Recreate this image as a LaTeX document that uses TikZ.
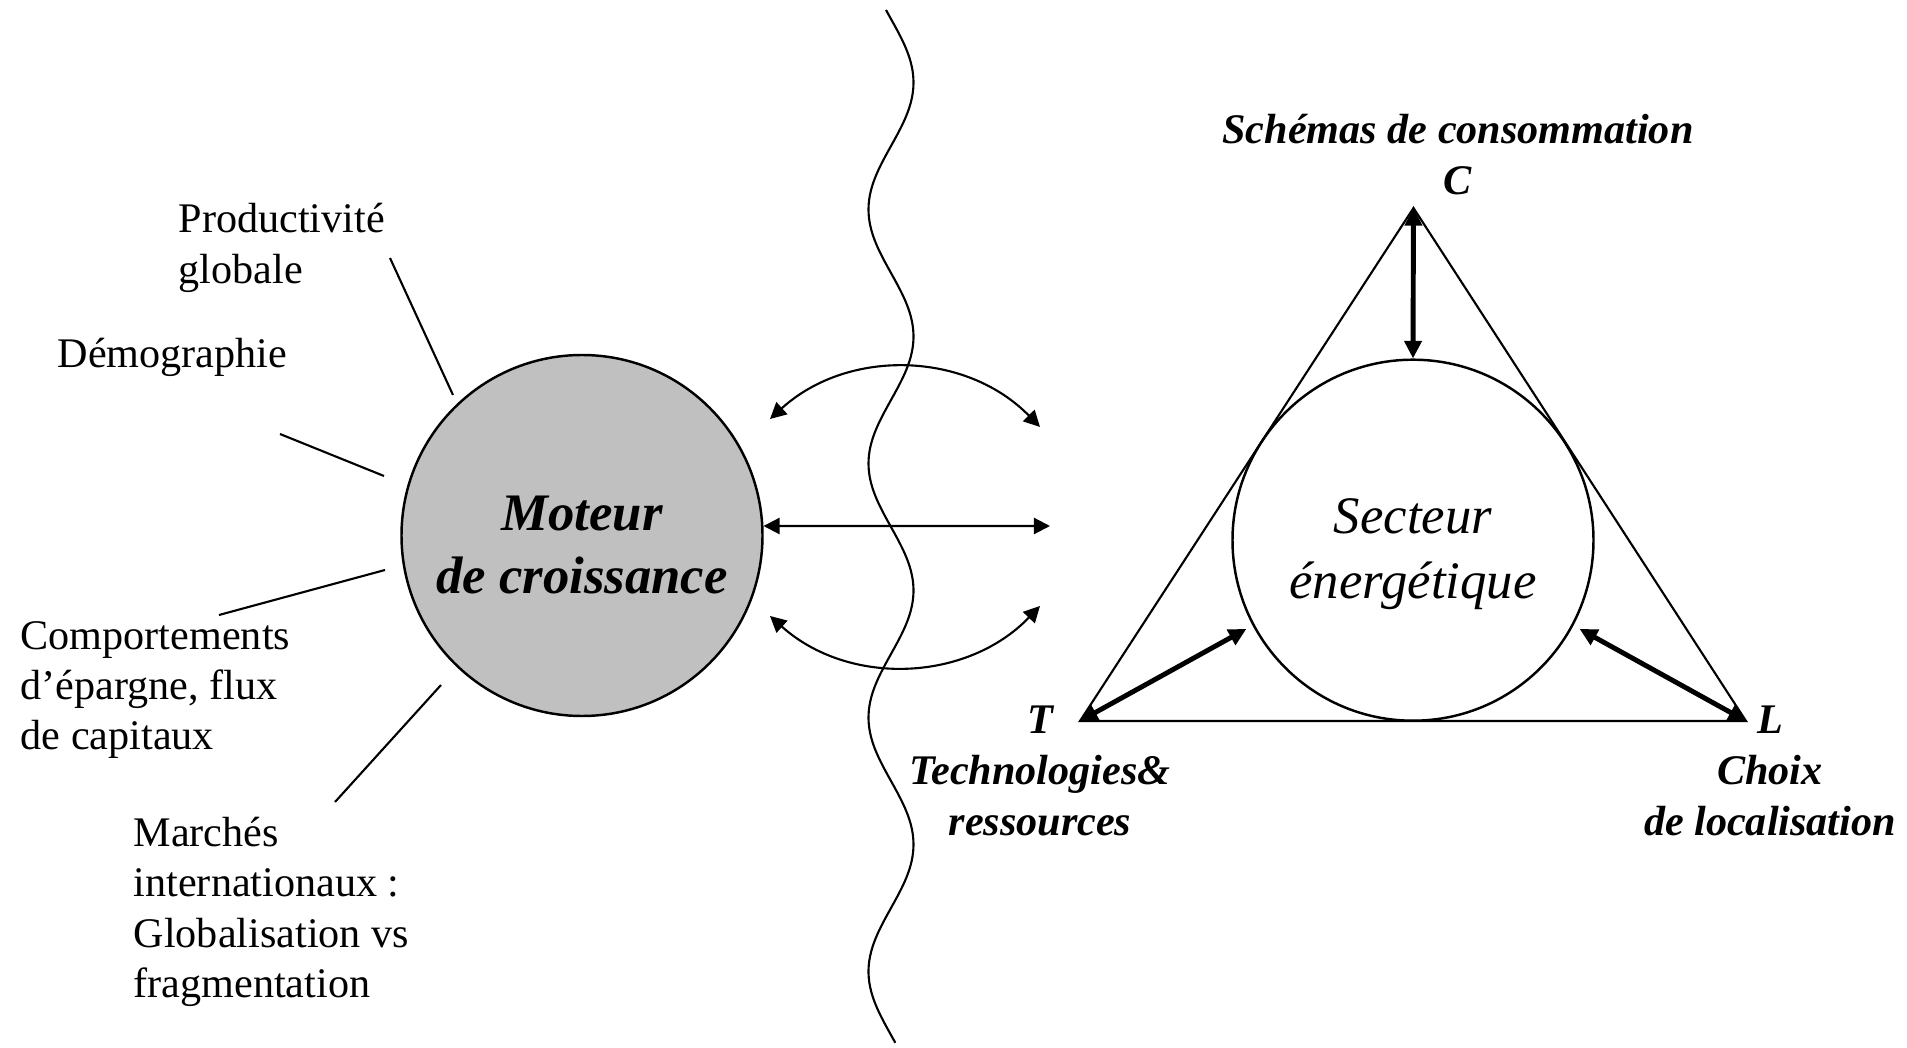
\documentclass[tikz,border=0pt]{standalone}
\usepackage{fontspec}
\setmainfont{Liberation Serif}
\usetikzlibrary{arrows.meta}
\definecolor{silver}{RGB}{192,192,192}
\tikzset{
	thinline/.style={line width=0.6pt},
	duo/.style={line width=0.6pt, {Triangle[length=4.6pt,width=4.6pt]}-{Triangle[length=4.6pt,width=4.6pt]}},
	duothick/.style={line width=1.4pt, {Triangle[length=5pt,width=4.8pt]}-{Triangle[length=5pt,width=4.8pt]}},
	factor/.style={anchor=west, align=left, inner sep=0pt, font=\fontsize{12}{14.3}\selectfont},
	pole/.style={align=center, inner sep=0pt, font=\fontsize{12}{14.5}\selectfont\bfseries\itshape},
	disc/.style={circle, draw, line width=0.7pt, inner sep=0pt, minimum size=3.61cm, align=center, text height=33pt, text depth=0pt}
}

\begin{document}
\begin{tikzpicture}
		%%%%% START %%%%%
		\useasboundingbox (0, 0) rectangle (19.07, 10.47);
		
		\node[disc, fill=silver, font=\fontsize{15}{18}\selectfont\bfseries\itshape] (moteur) at (5.82, 5.115) {Moteur\\de croissance};
		
		\node[factor] (prod) at (1.78, 7.99) {Productivité\\globale};
		\node[factor] (demo) at (0.57, 6.895) {Démographie};
		\node[factor] (epargne) at (0.20, 3.57) {Comportements\\d’épargne, flux\\de capitaux};
		\node[factor] (marches) at (1.33, 1.35) {Marchés\\internationaux :\\Globalisation vs\\fragmentation};
		
		\coordinate (p1) at (3.90, 7.89);
		\coordinate (q1) at (4.53, 6.52);
		\coordinate (p2) at (2.80, 6.13);
		\coordinate (q2) at (3.84, 5.71);
		\coordinate (p3) at (2.19, 4.32);
		\coordinate (q3) at (3.85, 4.77);
		\coordinate (p4) at (3.35, 2.45);
		\coordinate (q4) at (4.41, 3.62);
		\foreach \i in {1,...,4}
			\draw[thinline] (p\i) -- (q\i);
		
		\draw[thinline] plot[domain=10.37:0.04, samples=240, smooth, variable=\t] ({8.91+0.225*sin(360*(5.20-\t)/2.54)}, \t);
		
		\coordinate (a1) at (7.70, 6.28);
		\coordinate (b1) at (10.40, 6.20);
		\coordinate (a2) at (7.70, 4.31);
		\coordinate (b2) at (10.40, 4.41);
		\coordinate (mid) at (10.50, 5.21);
		\draw[duo] (a1) to[bend left=44] (b1);
		\draw[duo] (moteur.3) -- (mid);
		\draw[duo] (a2) to[bend right=44] (b2);
		
		\coordinate (C) at (14.135, 8.39);
		\coordinate (T) at (10.80, 3.26);
		\coordinate (L) at (17.46, 3.26);
		\draw[thinline] (C) -- (T) -- (L) -- cycle;
		
		\node[disc, font=\fontsize{15}{18.5}\selectfont\itshape] (secteur) at (14.13, 5.068) {Secteur\\énergétique};
		
		\draw[duothick] (C) -- (secteur.north);
		\draw[duothick, shorten >=2pt] (T) -- (secteur.208);
		\draw[duothick, shorten >=2pt] (L) -- (secteur.332);
		
		\node[pole] (clab) at (14.58, 8.92) {Schémas de consommation\\C};
		\node[pole] (tlab) at (10.40, 2.76) {T\\Technologies\&\\ressources};
		\node[pole] (llab) at (17.70, 2.76) {L\\Choix\\de localisation};
		
		%%%%% END %%%%%
	\end{tikzpicture}
\end{document}
